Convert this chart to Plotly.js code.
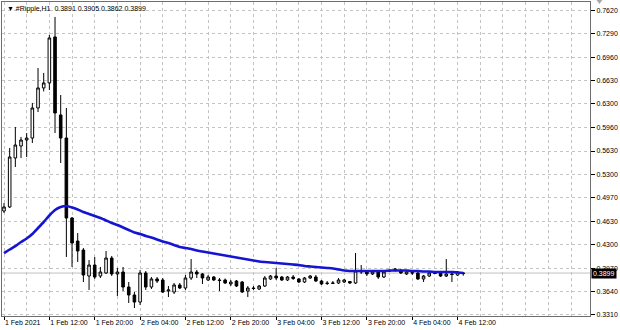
<!DOCTYPE html>
<html>
<head>
<meta charset="utf-8">
<script src="https://cdn.plot.ly/plotly-3.0.1.min.js"></script>
<style>
html,body{margin:0;padding:0;background:#fff;}
#chart{width:620px;height:330px;}
</style>
</head>
<body>
<div id="chart"></div>
<script>
// ---- data (XRP H1) ----
const symbolTitle = "#Ripple,H1";
const startTime = "2021-02-01T04:00:00Z";

const openP = [0.4779,0.4836,0.5531,0.5701,0.5786,0.5814,0.6240,0.6524,0.6595,0.7247,
0.6141,0.5814,0.4680,0.4353,0.4226,0.3857,0.4013,0.3857,0.3900,0.4112,
0.3886,0.3914,0.3701,0.3588,0.3488,0.3900,0.3701,0.3815,0.3801,0.3644,
0.3630,0.3730,0.3687,0.3829,0.3914,0.3886,0.3801,0.3843,0.3801,0.3801,
0.3744,0.3786,0.3772,0.3644,0.3687,0.3673,0.3715,0.3815,0.3857,0.3843,
0.3801,0.3843,0.3815,0.3772,0.3829,0.3843,0.3786,0.3758,0.3751,0.3758,
0.3772,0.3779,0.3758,0.3914,0.3914,0.3886,0.3914,0.3843,0.3935,0.3957,
0.3935,0.3886,0.3907,0.3900,0.3815,0.3857,0.3900,0.3900,0.3857,0.3886,
0.3871,0.3891];
const highP = [0.4893,0.5673,0.5970,0.5829,0.5885,0.6311,0.6807,0.6737,0.7276,0.7531,
0.6424,0.6240,0.4694,0.4467,0.4254,0.4084,0.4127,0.3985,0.4212,0.4141,
0.3971,0.3985,0.3772,0.3630,0.3943,0.3928,0.3843,0.3843,0.3829,0.3715,
0.3758,0.3758,0.3871,0.4098,0.3943,0.3900,0.3871,0.3857,0.3829,0.3822,
0.3801,0.3801,0.3786,0.3715,0.3715,0.3730,0.3857,0.3871,0.3971,0.3857,
0.3857,0.3871,0.3829,0.3843,0.3871,0.3871,0.3801,0.3786,0.3786,0.3829,
0.3815,0.3786,0.4183,0.4013,0.3928,0.3943,0.3928,0.3928,0.3950,0.3971,
0.3957,0.3928,0.3928,0.3914,0.3871,0.3914,0.3914,0.3914,0.4098,0.3900,
0.3928,0.3905];
const lowP = [0.4751,0.4822,0.5403,0.5531,0.5545,0.5743,0.6183,0.6475,0.6495,0.5885,
0.5460,0.4127,0.3985,0.4056,0.3772,0.3659,0.3815,0.3829,0.3886,0.3857,
0.3574,0.3644,0.3474,0.3403,0.3446,0.3659,0.3673,0.3758,0.3616,0.3559,
0.3602,0.3673,0.3659,0.3801,0.3829,0.3744,0.3786,0.3786,0.3644,0.3744,
0.3715,0.3701,0.3616,0.3559,0.3659,0.3659,0.3701,0.3801,0.3801,0.3786,
0.3786,0.3801,0.3758,0.3758,0.3815,0.3772,0.3730,0.3730,0.3744,0.3744,
0.3758,0.3744,0.3744,0.3886,0.3857,0.3871,0.3815,0.3829,0.3914,0.3921,
0.3886,0.3871,0.3871,0.3801,0.3772,0.3843,0.3886,0.3843,0.3843,0.3772,
0.3857,0.3862];
const closeP = [0.4836,0.5545,0.5715,0.5786,0.5814,0.6240,0.6524,0.6595,0.7233,0.6169,
0.5814,0.4680,0.4325,0.4212,0.3871,0.4013,0.3843,0.3914,0.4112,0.3886,
0.3914,0.3701,0.3588,0.3488,0.3900,0.3701,0.3815,0.3786,0.3630,0.3659,
0.3730,0.3687,0.3829,0.3914,0.3886,0.3829,0.3843,0.3801,0.3794,0.3758,
0.3772,0.3715,0.3630,0.3687,0.3680,0.3715,0.3829,0.3857,0.3829,0.3801,
0.3843,0.3822,0.3772,0.3829,0.3857,0.3786,0.3744,0.3751,0.3758,0.3801,
0.3801,0.3758,0.3928,0.3928,0.3886,0.3914,0.3843,0.3914,0.3928,0.3935,
0.3900,0.3914,0.3900,0.3815,0.3857,0.3900,0.3893,0.3857,0.3886,0.3879,
0.3914,0.3899];
const maLine = [0.4183,0.4233,0.4282,0.4339,0.4389,0.4453,0.4538,0.4623,0.4715,0.4793,
0.4836,0.4850,0.4829,0.4800,0.4765,0.4737,0.4708,0.4680,0.4645,0.4609,
0.4581,0.4545,0.4510,0.4474,0.4453,0.4425,0.4403,0.4375,0.4347,0.4325,
0.4297,0.4269,0.4254,0.4240,0.4219,0.4205,0.4190,0.4176,0.4162,0.4148,
0.4134,0.4120,0.4105,0.4091,0.4077,0.4063,0.4056,0.4049,0.4042,0.4034,
0.4027,0.4020,0.4013,0.3999,0.3992,0.3985,0.3978,0.3971,0.3964,0.3950,
0.3935,0.3928,0.3928,0.3928,0.3928,0.3928,0.3928,0.3928,0.3935,0.3935,
0.3935,0.3935,0.3928,0.3928,0.3921,0.3921,0.3914,0.3914,0.3914,0.3914,
0.3907,0.3900];

const xTickVals = ["2021-02-01 04:00","2021-02-01 12:00","2021-02-01 20:00","2021-02-02 04:00",
"2021-02-02 12:00","2021-02-02 20:00","2021-02-03 04:00","2021-02-03 12:00",
"2021-02-03 20:00","2021-02-04 04:00","2021-02-04 12:00"];
const xTickText = ["1 Feb 2021","1 Feb 12:00","1 Feb 20:00","2 Feb 04:00","2 Feb 12:00",
"2 Feb 20:00","3 Feb 04:00","3 Feb 12:00","3 Feb 20:00","4 Feb 04:00","4 Feb 12:00"];
const yTickText = ["0.3310","0.3640","0.3970","0.4300","0.4630","0.4970","0.5300",
"0.5630","0.5960","0.6300","0.6630","0.6960","0.7290","0.7620"];

// ---- build ----
const HOUR = 3600000;
const t0 = Date.parse(startTime);
function fmt(ms){ return new Date(ms).toISOString().slice(0,19).replace('T',' '); }
const times = openP.map((_, i) => fmt(t0 + i*HOUR));
const last = openP.length - 1;
const hdr = symbolTitle + "  " + [openP[last],highP[last],lowP[last],closeP[last]].map(v=>v.toFixed(4)).join(" ");

const FONT = "Liberation Sans, Arial, sans-serif";
const traces = [
  {type:'scatter', mode:'lines', x:times, y:maLine,
   line:{color:'#1414d2', width:2.6, shape:'spline', smoothing:0.5}, hoverinfo:'skip'},
  {type:'candlestick', x:times, open:openP, high:highP, low:lowP, close:closeP,
   increasing:{line:{color:'#000000', width:1}, fillcolor:'#ffffff'},
   decreasing:{line:{color:'#000000', width:1}, fillcolor:'#000000'},
   whiskerwidth:0, hoverinfo:'skip'}
];

const layout = {
  width:620, height:330,
  margin:{l:2, r:30, t:2, b:14},
  paper_bgcolor:'#ffffff', plot_bgcolor:'#ffffff',
  showlegend:false, hovermode:false,
  font:{family:FONT, size:7, color:'#000'},
  boxgap:0.35,
  xaxis:{
    type:'date',
    range:[fmt(t0 - 0.353*HOUR), fmt(t0 + 103.35*HOUR)],
    rangeslider:{visible:false},
    tickmode:'array', tickvals:xTickVals, ticktext:xTickText,
    ticks:'outside', ticklen:3, tickcolor:'#000', tickwidth:1,
    tickangle:0, automargin:false,
    ticklabelposition:'outside right',
    tickfont:{family:FONT, size:7, color:'#000'},
    showgrid:true, gridcolor:'#c4c4c4', griddash:'dot', gridwidth:1,
    minor:{tickmode:'linear', tick0:'2021-02-01 04:00', dtick:4*HOUR,
           showgrid:true, gridcolor:'#c4c4c4', griddash:'dot', gridwidth:1, ticks:''},
    showline:true, linecolor:'#6e6e6e', linewidth:1, mirror:true,
    zeroline:false, fixedrange:true
  },
  yaxis:{
    side:'right',
    range:[0.3290, 0.7743],
    tickmode:'array', tickvals:yTickText.map(parseFloat), ticktext:yTickText,
    ticks:'outside', ticklen:4, tickcolor:'#000', tickwidth:1,
    automargin:false,
    tickfont:{family:FONT, size:7, color:'#000'},
    showgrid:true, gridcolor:'#c4c4c4', griddash:'dot', gridwidth:1,
    showline:true, linecolor:'#6e6e6e', linewidth:1, mirror:true,
    zeroline:false, fixedrange:true
  },
  shapes:[
    {type:'line', xref:'paper', x0:0, x1:1, yref:'y', y0:closeP[last], y1:closeP[last],
     line:{color:'#c0c0c0', width:1}, layer:'below'},
    {type:'path', xref:'paper', yref:'paper',
     path:'M 1.011 1.0064 L 1.0212 1.0064 L 1.0161 0.9936 Z',
     fillcolor:'#a8a8a8', line:{width:0}}
  ],
  annotations:[
    {xref:'paper', yref:'paper', x:0, y:1, xanchor:'left', yanchor:'top', xshift:3, yshift:-1,
     text:'▼ ' + hdr, showarrow:false, font:{family:FONT, size:7, color:'#000'}},
    {xref:'paper', yref:'y', x:1, y:closeP[last], xanchor:'left', yanchor:'middle', xshift:1,
     text:closeP[last].toFixed(4), showarrow:false, bgcolor:'#000000', borderpad:1,
     font:{family:FONT, size:7, color:'#ffffff'}}
  ]
};

Plotly.newPlot('chart', traces, layout, {staticPlot:true, displayModeBar:false});
</script>
</body>
</html>
